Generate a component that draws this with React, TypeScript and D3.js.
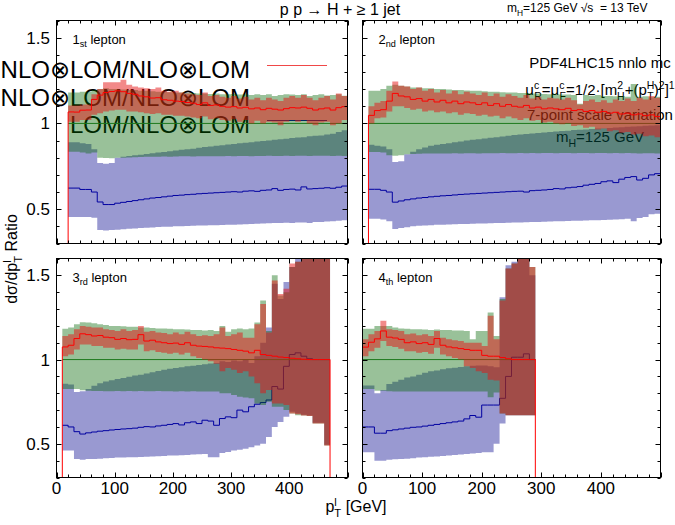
import React, { useEffect, useRef } from "react";
import * as d3 from "d3";

const BIN_WIDTH = 10;
const X_MAX = 500;
const FONT = "'Liberation Sans', Arial, Helvetica, sans-serif";

const BLUE_FILL = "rgba(0,0,139,0.4)";
const GREEN_FILL = "rgba(0,100,0,0.4)";
const RED_FILL = "rgba(230,20,20,0.5)";
const BLUE_LINE = "#0000a0";
const GREEN_LINE = "#1e7a1e";
const RED_LINE = "#ff0000";

// 1st lepton, bins of 10 GeV from 20 GeV
const p1Start = 20;
const p1RedMid = [1.067,1.066,1.077,1.078,1.14,1.165,1.18,1.186,1.19,1.185,
  1.175,1.17,1.16,1.155,1.148,1.15,1.138,1.135,1.13,1.128,
  1.122,1.118,1.11,1.12,1.105,1.108,1.1,1.095,1.098,1.09,
  1.094,1.085,1.09,1.08,1.088,1.083,1.078,1.086,1.092,1.09,
  1.095,1.088,1.078,1.085,1.09,1.078,1.092,1.098];
const p1RedHi = [1.105,1.105,1.11,1.11,1.17,1.2,1.24,1.24,1.24,1.255,
  1.225,1.215,1.21,1.205,1.2,1.21,1.19,1.185,1.19,1.18,
  1.175,1.17,1.165,1.18,1.16,1.165,1.155,1.15,1.16,1.145,
  1.155,1.14,1.15,1.135,1.15,1.14,1.13,1.15,1.16,1.15,
  1.165,1.15,1.135,1.15,1.16,1.14,1.175,1.16];
const p1RedLo = [1.01,1.01,1.02,1.02,1.05,1.06,1.07,1.075,1.08,1.08,
  1.07,1.07,1.065,1.06,1.055,1.06,1.05,1.05,1.045,1.045,
  1.04,1.035,1.03,1.04,1.025,1.03,1.02,1.015,1.025,1.01,
  1.02,1.0,1.015,1.0,1.01,1.005,0.99,1.01,1.02,1.01,
  1.02,1.0,0.99,1.005,1.01,0.99,1.0,1.02];
const p1GreenHi = [1.18,1.18,1.185,1.185,1.195,1.2,1.205,1.2,1.2,1.198,
  1.195,1.195,1.19,1.19,1.188,1.185,1.185,1.182,1.18,1.18,
  1.178,1.178,1.175,1.175,1.172,1.175,1.17,1.17,1.172,1.168,
  1.17,1.165,1.17,1.165,1.17,1.16,1.165,1.17,1.168,1.165,
  1.17,1.16,1.165,1.17,1.163,1.165,1.17,1.162];
const p1GreenLo = [0.835,0.835,0.83,0.825,0.83,0.8,0.798,0.797,0.8,0.8,
  0.802,0.803,0.804,0.805,0.806,0.806,0.807,0.806,0.807,0.808,
  0.808,0.807,0.808,0.808,0.809,0.808,0.809,0.81,0.809,0.81,
  0.81,0.809,0.81,0.81,0.811,0.81,0.81,0.811,0.81,0.812,
  0.811,0.81,0.812,0.811,0.812,0.81,0.812,0.81];
const p1BlueMid = [0.623,0.623,0.615,0.615,0.6,0.542,0.527,0.527,0.535,0.54,
  0.545,0.55,0.555,0.56,0.565,0.568,0.572,0.576,0.58,0.582,
  0.585,0.587,0.59,0.592,0.594,0.596,0.598,0.6,0.602,0.6,
  0.605,0.607,0.604,0.61,0.612,0.62,0.61,0.615,0.617,0.612,
  0.63,0.618,0.62,0.622,0.625,0.622,0.628,0.635];
const p1BlueHi = [0.89,0.89,0.885,0.88,0.85,0.77,0.765,0.77,0.8,0.805,
  0.81,0.815,0.818,0.822,0.826,0.83,0.834,0.838,0.842,0.846,
  0.85,0.853,0.858,0.862,0.866,0.87,0.873,0.877,0.88,0.884,
  0.888,0.89,0.895,0.898,0.9,0.905,0.908,0.91,0.915,0.918,
  0.92,0.925,0.928,0.93,0.935,0.94,0.95,0.96];
const p1BlueLo = [0.455,0.455,0.455,0.455,0.45,0.378,0.376,0.378,0.38,0.383,
  0.386,0.388,0.39,0.392,0.394,0.396,0.397,0.398,0.4,0.401,
  0.402,0.403,0.405,0.405,0.406,0.407,0.408,0.41,0.41,0.411,
  0.412,0.413,0.415,0.416,0.418,0.42,0.42,0.421,0.42,0.422,
  0.423,0.42,0.425,0.426,0.428,0.43,0.432,0.435];

// 2nd lepton, from 10 GeV
const p2Start = 10;
const p2RedMid = [1.047,1.075,1.08,1.13,1.175,1.16,1.155,1.14,1.145,1.13,
  1.14,1.125,1.135,1.12,1.13,1.115,1.125,1.12,1.11,1.12,
  1.105,1.115,1.1,1.11,1.1,1.095,1.105,1.09,1.095,1.085,
  1.09,1.085,1.08,1.088,1.075,1.08,1.07,1.075,1.065,1.07,
  1.06,1.065,1.055,1.06,1.05,1.055,1.045,1.05,1.04];
const p2RedHi = [1.1,1.12,1.13,1.19,1.245,1.22,1.215,1.2,1.21,1.19,
  1.2,1.18,1.195,1.175,1.19,1.17,1.185,1.175,1.165,1.18,
  1.16,1.175,1.155,1.17,1.16,1.15,1.165,1.145,1.155,1.14,
  1.15,1.145,1.14,1.15,1.135,1.11,1.13,1.14,1.125,1.135,
  1.12,1.14,1.13,1.145,1.13,1.15,1.14,1.16,1.15];
const p2RedLo = [1.0,1.03,1.035,1.07,1.1,1.1,1.09,1.08,1.085,1.07,
  1.075,1.065,1.07,1.06,1.065,1.05,1.06,1.055,1.045,1.05,
  1.04,1.045,1.03,1.04,1.03,1.02,1.03,1.015,1.02,1.005,
  1.01,1.0,0.995,1.0,0.985,0.99,0.975,0.98,0.965,0.97,
  0.955,0.96,0.945,0.95,0.935,0.94,0.925,0.93,0.92];
const p2GreenHi = [1.19,1.19,1.2,1.22,1.225,1.22,1.215,1.21,1.21,1.205,
  1.205,1.2,1.2,1.198,1.195,1.195,1.192,1.19,1.19,1.188,
  1.185,1.185,1.182,1.18,1.18,1.178,1.178,1.175,1.175,1.172,
  1.17,1.17,1.168,1.168,1.165,1.115,1.165,1.162,1.165,1.16,
  1.16,1.158,1.16,1.155,1.23,1.155,1.158,1.152,1.155];
const p2GreenLo = [0.833,0.833,0.83,0.815,0.812,0.815,0.82,0.822,0.823,0.824,
  0.824,0.825,0.825,0.825,0.826,0.825,0.826,0.826,0.825,0.826,
  0.826,0.826,0.827,0.826,0.826,0.827,0.826,0.827,0.826,0.827,
  0.827,0.826,0.827,0.827,0.826,0.827,0.827,0.826,0.827,0.827,
  0.826,0.827,0.826,0.827,0.826,0.825,0.826,0.826,0.825];
const p2BlueMid = [0.616,0.616,0.61,0.6,0.541,0.548,0.555,0.56,0.565,0.568,
  0.572,0.575,0.578,0.58,0.583,0.586,0.588,0.59,0.592,0.594,
  0.596,0.598,0.6,0.602,0.604,0.605,0.6,0.608,0.61,0.612,
  0.615,0.62,0.618,0.625,0.628,0.632,0.64,0.645,0.65,0.66,
  0.665,0.655,0.675,0.685,0.69,0.67,0.68,0.7,0.707];
const p2BlueHi = [0.875,0.87,0.865,0.85,0.775,0.78,0.82,0.835,0.85,0.86,
  0.87,0.875,0.88,0.885,0.89,0.895,0.9,0.905,0.908,0.912,
  0.916,0.92,0.924,0.928,0.932,0.935,0.938,0.941,0.944,0.947,
  0.95,0.953,0.956,0.958,0.961,0.963,0.965,0.967,0.97,0.972,
  0.974,0.976,0.978,0.98,0.982,0.984,0.986,0.988,0.99];
const p2BlueLo = [0.445,0.445,0.44,0.43,0.385,0.39,0.395,0.4,0.403,0.405,
  0.407,0.409,0.41,0.411,0.412,0.413,0.414,0.415,0.416,0.417,
  0.418,0.419,0.42,0.421,0.422,0.423,0.424,0.425,0.426,0.427,
  0.428,0.429,0.43,0.431,0.432,0.433,0.434,0.435,0.436,0.437,
  0.438,0.44,0.442,0.445,0.43,0.448,0.455,0.47,0.474];

// 3rd lepton, from 10 GeV to 470 GeV
const p3Start = 10;
const p3RedMid = [1.075,1.085,1.125,1.153,1.148,1.14,1.143,1.133,1.13,1.12,
  1.125,1.118,1.12,1.148,1.11,1.115,1.105,1.1,1.095,1.098,
  1.09,1.1,1.085,1.08,1.078,1.075,1.07,1.068,1.065,1.06,
  1.055,1.05,1.04,1.055,1.03,1.025,1.02,1.015,1.012,1.008,
  1.005,1.002,1.0,1.0,1.0,1.0];
const p3RedHi = [1.14,1.15,1.18,1.2,1.195,1.19,1.19,1.18,1.175,1.17,
  1.18,1.17,1.175,1.2,1.165,1.17,1.16,1.158,1.15,1.16,
  1.15,1.165,1.15,1.14,1.145,1.14,1.15,1.19,1.14,1.15,
  1.16,1.13,1.13,1.21,1.33,1.16,1.47,1.39,1.42,1.57,
  1.58,1.7,1.7,1.7,1.7,1.7];
const p3RedLo = [1.02,1.03,1.06,1.09,1.09,1.08,1.08,1.07,1.07,1.06,
  1.065,1.06,1.06,1.09,1.05,1.055,1.045,1.04,1.035,1.04,
  1.03,1.04,1.02,1.01,1.0,0.99,0.975,0.93,0.95,0.94,
  0.92,0.93,0.9,0.86,0.8,0.82,0.74,0.74,0.73,0.68,
  0.675,0.668,0.665,0.62,0.62,0.49];
const p3GreenHi = [1.183,1.19,1.21,1.222,1.22,1.215,1.21,1.205,1.2,1.2,
  1.198,1.195,1.195,1.19,1.19,1.188,1.185,1.185,1.183,1.18,
  1.18,1.178,1.175,1.175,1.172,1.175,1.17,1.2,1.165,1.18,
  1.185,1.18,1.185,1.22,1.35,1.17,1.5,1.38,1.4,1.55,
  1.58,1.7,1.7,1.7,1.7,1.7];
const p3GreenLo = [0.826,0.826,0.826,0.818,0.815,0.813,0.813,0.812,0.812,0.813,
  0.812,0.813,0.812,0.813,0.812,0.812,0.813,0.812,0.812,0.811,
  0.812,0.811,0.812,0.811,0.81,0.811,0.81,0.8,0.8,0.79,
  0.78,0.775,0.77,0.74,0.73,0.75,0.72,0.72,0.7,0.68,
  0.67,0.668,0.665,0.62,0.62,0.49];
const p3BlueMid = [0.61,0.6,0.572,0.558,0.565,0.57,0.575,0.578,0.582,0.585,
  0.588,0.59,0.593,0.598,0.602,0.6,0.606,0.61,0.615,0.62,
  0.612,0.625,0.63,0.62,0.64,0.635,0.61,0.65,0.66,0.655,
  0.7,0.69,0.72,0.735,0.745,0.76,0.84,0.825,0.96,1.03,
  1.04,1.02,1.005,1.0,1.0,1.0];
const p3BlueHi = [0.856,0.852,0.807,0.812,0.825,0.845,0.86,0.87,0.877,0.885,
  0.89,0.898,0.905,0.91,0.918,0.925,0.932,0.94,0.945,0.95,
  0.955,0.96,0.963,0.968,0.972,0.976,0.98,0.99,0.985,0.995,
  0.99,1.0,0.98,1.02,1.1,1.19,1.45,1.36,1.46,1.55,
  1.65,1.7,1.7,1.7,1.7,1.7];
const p3BlueLo = [0.46,0.46,0.41,0.405,0.41,0.41,0.412,0.415,0.416,0.418,
  0.419,0.42,0.42,0.422,0.423,0.425,0.426,0.428,0.43,0.431,
  0.432,0.434,0.436,0.438,0.44,0.42,0.42,0.445,0.452,0.46,
  0.465,0.47,0.48,0.49,0.5,0.54,0.6,0.63,0.66,0.69,
  0.68,0.672,0.668,0.625,0.625,0.495];

// 4th lepton, from 0 to 290 GeV
const p4Start = 0;
const p4RedMid = [1.074,1.103,1.123,1.17,1.133,1.128,1.12,1.1,1.105,1.095,
  1.1,1.09,1.125,1.085,1.075,1.07,1.065,1.06,1.055,1.055,
  1.025,1.02,1.02,1.012,1.005,1.0,1.0,1.0,1.0];
const p4RedHi = [1.12,1.15,1.17,1.23,1.18,1.175,1.17,1.15,1.155,1.145,
  1.15,1.14,1.17,1.13,1.12,1.115,1.11,1.1,1.1,1.1,
  1.08,1.26,1.12,1.35,1.54,1.57,1.62,1.62,1.55];
const p4RedLo = [1.02,1.05,1.07,1.11,1.08,1.075,1.065,1.05,1.05,1.04,
  1.045,1.035,1.07,1.03,1.02,1.01,1.0,0.96,0.95,0.93,
  0.92,0.88,0.876,0.68,0.67,0.67,0.67,0.67,0.67];
const p4GreenHi = [1.183,1.183,1.2,1.2,1.2,1.19,1.185,1.183,1.18,1.18,
  1.178,1.175,1.178,1.175,1.175,1.173,1.173,1.17,1.12,1.17,
  1.17,1.28,1.14,1.36,1.54,1.57,1.62,1.62,1.55];
const p4GreenLo = [0.826,0.826,0.815,0.815,0.812,0.81,0.81,0.81,0.81,0.81,
  0.81,0.81,0.81,0.81,0.81,0.81,0.81,0.81,0.81,0.81,
  0.81,0.777,0.805,0.68,0.67,0.67,0.67,0.67,0.67];
const p4BlueMid = [0.6,0.6,0.563,0.563,0.578,0.583,0.588,0.593,0.598,0.6,
  0.605,0.61,0.615,0.62,0.625,0.63,0.635,0.648,0.668,0.658,
  0.73,0.73,0.73,0.77,0.9,1.014,1.014,1.034,1.0];
const p4BlueHi = [0.846,0.846,0.8,0.82,0.855,0.868,0.88,0.893,0.9,0.91,
  0.922,0.93,0.935,0.943,0.948,0.952,0.956,0.96,0.963,0.965,
  0.965,0.96,0.955,1.37,1.56,1.58,1.63,1.63,1.5];
const p4BlueLo = [0.45,0.45,0.4,0.4,0.405,0.408,0.41,0.412,0.415,0.418,
  0.42,0.423,0.425,0.428,0.43,0.433,0.436,0.44,0.443,0.446,
  0.45,0.45,0.5,0.62,0.67,0.67,0.67,0.67,0.67];

const xTickLabels = [0, 100, 200, 300, 400];
const yTickLabels = [0.5, 1, 1.5];
const legendLabels = ["NLO⊗LOM/NLO⊗LOM", "NLO⊗LOM/NLO⊗LOM", "LOM/NLO⊗LOM"];

const panels = [
  { n: "1", ord: "st", start: p1Start, redMid: p1RedMid, redHi: p1RedHi, redLo: p1RedLo, greenHi: p1GreenHi, greenLo: p1GreenLo, blueMid: p1BlueMid, blueHi: p1BlueHi, blueLo: p1BlueLo,
    left: 56.5, right: 347.5, top: 20.5, bottom: 243.5, xLabels: false, yLabels: true },
  { n: "2", ord: "nd", start: p2Start, redMid: p2RedMid, redHi: p2RedHi, redLo: p2RedLo, greenHi: p2GreenHi, greenLo: p2GreenLo, blueMid: p2BlueMid, blueHi: p2BlueHi, blueLo: p2BlueLo,
    left: 362.5, right: 660.5, top: 20.5, bottom: 243.5, xLabels: false, yLabels: false },
  { n: "3", ord: "rd", start: p3Start, redMid: p3RedMid, redHi: p3RedHi, redLo: p3RedLo, greenHi: p3GreenHi, greenLo: p3GreenLo, blueMid: p3BlueMid, blueHi: p3BlueHi, blueLo: p3BlueLo,
    left: 56.5, right: 347.5, top: 258.5, bottom: 477.5, xLabels: true, yLabels: true },
  { n: "4", ord: "th", start: p4Start, redMid: p4RedMid, redHi: p4RedHi, redLo: p4RedLo, greenHi: p4GreenHi, greenLo: p4GreenLo, blueMid: p4BlueMid, blueHi: p4BlueHi, blueLo: p4BlueLo,
    left: 362.5, right: 660.5, top: 258.5, bottom: 477.5, xLabels: true, yLabels: false },
];

type Part = { t: string; s?: "sub" | "sup"; back?: number };

// text with gnuplot-like sub/superscripts; "back" stacks a script under the previous one
function rich(parent: any, x: number, y: number, size: number, anchor: string, parts: Part[]) {
  const text = parent.append("text")
    .attr("x", x).attr("y", y)
    .attr("font-family", FONT).attr("font-size", size)
    .attr("text-anchor", anchor)
    .style("white-space", "pre");
  let shift = 0;
  parts.forEach((p) => {
    const target = p.s === "sub" ? size * 0.3 : p.s === "sup" ? -size * 0.4 : 0;
    const ts = text.append("tspan").text(p.t).attr("dy", target - shift);
    if (p.s) ts.attr("font-size", size * 0.7);
    if (p.back) ts.attr("dx", -p.back);
    shift = target;
  });
  return text;
}

// each bin gives two points: its left and right edge
function stepPoints(start: number, vals: number[]) {
  return vals.flatMap((v, i) => [[start + i * BIN_WIDTH, v], [start + (i + 1) * BIN_WIDTH, v]]);
}
function bandPoints(start: number, lo: number[], hi: number[]) {
  return lo.flatMap((l, i) => [[start + i * BIN_WIDTH, l, hi[i]], [start + (i + 1) * BIN_WIDTH, l, hi[i]]]);
}

export default function App() {
  const svgRef = useRef<SVGSVGElement>(null);

  useEffect(() => {
    const svg = d3.select(svgRef.current);
    svg.selectAll("*").remove();
    const defs = svg.append("defs");

    // title and run info
    rich(svg, 340, 15, 16, "middle", [{ t: "p p → H + ≥ 1 jet" }]);
    rich(svg, 507, 12, 12, "start", [{ t: "m" }, { t: "H", s: "sub" }, { t: "=125 GeV √s  = 13 TeV" }]);

    // legend, sits underneath the bands
    legendLabels.forEach((l, i) => {
      rich(svg, 250, 78 + i * 27.5, 24, "end", [{ t: l }]);
    });

    // settings block in the 2nd panel
    rich(svg, 600, 68, 15, "middle", [{ t: "PDF4LHC15 nnlo mc" }]);
    rich(svg, 600, 95, 15, "middle", [
      { t: "μ" }, { t: "c", s: "sup" }, { t: "R", s: "sub", back: 5 },
      { t: "=μ" }, { t: "c", s: "sup" }, { t: "F", s: "sub", back: 5 },
      { t: "=1/2·[m" }, { t: "2", s: "sup" }, { t: "H", s: "sub", back: 6 },
      { t: "+(p" }, { t: "H", s: "sup" }, { t: "T", s: "sub", back: 7 },
      { t: ")" }, { t: "2", s: "sup" }, { t: "]" }, { t: "1", s: "sup" },
    ]);
    rich(svg, 600, 120, 15, "middle", [{ t: "7-point scale variation" }]);
    rich(svg, 600, 142, 15, "middle", [{ t: "m" }, { t: "H", s: "sub" }, { t: "=125 GeV" }]);

    panels.forEach((p, k) => {
      const x = d3.scaleLinear().domain([0, X_MAX]).range([p.left, p.right]);
      const y = d3.scaleLinear().domain([0.3, 1.6]).range([p.bottom, p.top]);
      const end = p.start + p.redMid.length * BIN_WIDTH;

      const clipId = `panel-clip-${k}`;
      defs.append("clipPath").attr("id", clipId)
        .append("rect")
        .attr("x", p.left).attr("y", p.top)
        .attr("width", p.right - p.left).attr("height", p.bottom - p.top);

      const g = svg.append("g").attr("clip-path", `url(#${clipId})`);
      const area = d3.area<number[]>().x((d) => x(d[0])).y0((d) => y(d[1])).y1((d) => y(d[2]));
      const line = d3.line<number[]>().x((d) => x(d[0])).y((d) => y(d[1]));

      // LOM / NLO x LOM
      g.append("path").attr("d", area(bandPoints(p.start, p.blueLo, p.blueHi))).attr("fill", BLUE_FILL);
      g.append("path").attr("d", line(stepPoints(p.start, p.blueMid)))
        .attr("fill", "none").attr("stroke", BLUE_LINE).attr("stroke-width", 1);
      if (k === 0) {
        g.append("line").attr("x1", 267).attr("x2", 327).attr("y1", 120.5).attr("y2", 120.5)
          .attr("stroke", BLUE_LINE).attr("stroke-width", 1);
      }

      // reference, ratio to itself
      g.append("path").attr("d", area(bandPoints(p.start, p.greenLo, p.greenHi))).attr("fill", GREEN_FILL);
      g.append("line")
        .attr("x1", x(p.start)).attr("x2", x(end))
        .attr("y1", y(1)).attr("y2", y(1))
        .attr("stroke", GREEN_LINE).attr("stroke-width", 1);

      // NLO x LOM with full decay
      g.append("path").attr("d", area(bandPoints(p.start, p.redLo, p.redHi))).attr("fill", RED_FILL);
      const redPts = [[p.start, 0], ...stepPoints(p.start, p.redMid), [end, 0]];
      g.append("path").attr("d", line(redPts))
        .attr("fill", "none").attr("stroke", RED_LINE).attr("stroke-width", 1);
      if (k === 0) {
        g.append("line").attr("x1", 267).attr("x2", 327).attr("y1", 65.5).attr("y2", 65.5)
          .attr("stroke", "#f04848").attr("stroke-width", 1);
      }

      // frame and ticks
      const frame = svg.append("g").attr("stroke", "#000").attr("stroke-width", 1);
      frame.append("rect")
        .attr("x", p.left).attr("y", p.top)
        .attr("width", p.right - p.left).attr("height", p.bottom - p.top)
        .attr("fill", "none");
      d3.range(0, X_MAX + 1, 20).forEach((v) => {
        const len = v % 100 === 0 ? 5 : 3;
        const xv = Math.round(x(v)) + 0.5;
        frame.append("line").attr("x1", xv).attr("x2", xv).attr("y1", p.bottom).attr("y2", p.bottom - len);
        frame.append("line").attr("x1", xv).attr("x2", xv).attr("y1", p.top).attr("y2", p.top + len);
      });
      d3.range(3, 17).forEach((t) => {
        const len = t % 5 === 0 ? 5 : 3;
        const yv = Math.round(y(t / 10)) + 0.5;
        frame.append("line").attr("x1", p.left).attr("x2", p.left + len).attr("y1", yv).attr("y2", yv);
        frame.append("line").attr("x1", p.right).attr("x2", p.right - len).attr("y1", yv).attr("y2", yv);
      });

      if (p.xLabels) {
        xTickLabels.forEach((v) => {
          rich(svg, x(v), p.bottom + 16, 17, "middle", [{ t: String(v) }]);
        });
      }
      if (p.yLabels) {
        yTickLabels.forEach((v) => {
          rich(svg, 50, y(v) + 6, 17, "end", [{ t: String(v) }]);
        });
      }

      rich(svg, p.left + 16, p.top + 23, 13, "start", [{ t: p.n }, { t: p.ord, s: "sub" }, { t: " lepton" }]);
    });

    // axis titles
    rich(svg, 356, 512, 16, "middle", [{ t: "p" }, { t: "l", s: "sup" }, { t: "T", s: "sub", back: 2.5 }, { t: " [GeV]" }]);
    const yTitle = rich(svg, 0, 0, 16, "middle", [
      { t: "dσ/dp" }, { t: "l", s: "sup" }, { t: "T", s: "sub", back: 2.5 }, { t: " Ratio" },
    ]);
    yTitle.attr("transform", "translate(17,259) rotate(-90)");
  }, []);

  return (
    <svg
      ref={svgRef}
      width={675}
      height={525}
      style={{ position: "absolute", left: 0, top: 0, background: "#fff" }}
    />
  );
}
